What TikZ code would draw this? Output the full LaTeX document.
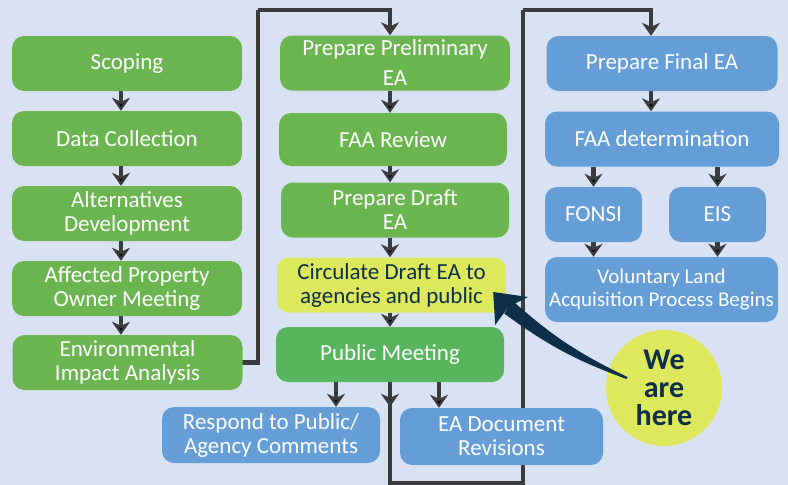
\documentclass[tikz,border=0pt]{standalone}
\usepackage{fontspec}
\setmainfont{Carlito}
\usepackage{tikz}
\usetikzlibrary{arrows.meta,positioning}

\definecolor{bgblue}{HTML}{D9E2F3}
\definecolor{stagegreen}{HTML}{6AB550}
\definecolor{meetgreen}{HTML}{58B55E}
\definecolor{stageblue}{HTML}{659DD7}
\definecolor{hereyellow}{HTML}{DEE85C}
\definecolor{herenavy}{HTML}{0D3048}
\definecolor{flowgray}{HTML}{3B3A3D}

\pgfdeclarelayer{background}
\pgfsetlayers{background,main}

\tikzset{
  stage/.style={rounded corners=12pt, text=white, align=center, inner sep=0pt,
    font=\fontsize{23}{24}\selectfont, minimum height=55pt, minimum width=230pt},
  greenstage/.style={stage, fill=stagegreen},
  bluestage/.style={stage, fill=stageblue},
  flow/.style={draw=flowgray, line width=4.5pt, -{Stealth[length=13pt,width=18pt,inset=4pt]}},
  loopline/.style={draw=flowgray, line width=4.5pt}
}

\begin{document}
\begin{tikzpicture}[x=1pt, y=-1pt]
  \useasboundingbox (0,0) rectangle (788,485);

  % left column
  \node[greenstage] (scoping) at (127,63.5) {Scoping};
  \node[greenstage] (datacol) at (127,138.5) {Data Collection};
  \node[greenstage] (altdev) at (127,213.5) {Alternatives\\Development};
  \node[greenstage] (owner) at (127,288.5) {Affected Property\\Owner Meeting};
  \node[greenstage] (envimp) at (127.5,362.5) {Environmental\\Impact Analysis};

  % middle column
  \node[greenstage] (prelim) at (395,63) {Prepare Preliminary\\[6pt]EA};
  \node[greenstage, minimum height=53pt, minimum width=228pt] (faarev) at (393,139.5) {FAA Review};
  \node[greenstage, minimum width=228pt] (draft) at (395,210) {Prepare Draft\\EA};
  \node[stage, fill=hereyellow, text=herenavy, minimum width=229pt] (circ) at (391.5,285) {Circulate Draft EA to\\agencies and public};
  \node[stage, fill=meetgreen, minimum width=228pt] (pubmeet) at (390,354.5) {Public Meeting};
  \node[bluestage, minimum width=218pt, minimum height=56pt] (respond) at (271,435) {Respond to Public/\\Agency Comments};
  \node[bluestage, minimum width=203pt, minimum height=57pt] (revis) at (501.5,436.5) {EA Document\\Revisions};

  % right column
  \node[bluestage, minimum width=231pt] (final) at (662,63.5) {Prepare Final EA};
  \node[bluestage, minimum width=234pt] (faadet) at (662,139) {FAA determination};
  \node[bluestage, minimum width=97pt] (fonsi) at (593.5,214.5) {FONSI};
  \node[bluestage, minimum width=97pt] (eis) at (717.5,214.5) {EIS};
  \node[bluestage, minimum width=233pt, minimum height=65pt, font=\fontsize{21}{23}\selectfont] (vol) at (661.5,289.5) {Voluntary Land\\Acquisition Process Begins};

  \node[circle, fill=hereyellow, text=herenavy, minimum size=116pt, inner sep=0pt, align=center,
    font=\fontsize{30}{28}\selectfont\bfseries] (here) at (664,388) {We\\are\\here};

  \coordinate (leftx) at (121,0);
  \coordinate (midx) at (390,0);
  \coordinate (rightx) at (651,0);
  \coordinate (topA) at (258,10);
  \coordinate (topB) at (523,10);
  \coordinate (botB) at (523,483);

  \begin{pgfonlayer}{background}
  \fill[bgblue] (0,0) rectangle (788,485);
  \path[flow]
  (leftx |- scoping.south) edge (leftx |- datacol.north)
  (leftx |- datacol.south) edge (leftx |- altdev.north)
  (leftx |- altdev.south) edge (leftx |- owner.north)
  (leftx |- owner.south) edge (leftx |- envimp.north)
  (midx |- prelim.south) edge (midx |- faarev.north)
  (midx |- faarev.south) edge (midx |- draft.north)
  (midx |- draft.south) edge (midx |- circ.north)
  (midx |- circ.south) edge (midx |- pubmeet.north)
  ([xshift=-54pt]pubmeet.south) edge ([xshift=-54pt]pubmeet.south |- respond.north)
  ([xshift=49pt]pubmeet.south) edge ([xshift=49pt]pubmeet.south |- revis.north)
  (midx |- pubmeet.south) edge (midx |- respond.north)
  (rightx |- final.south) edge (rightx |- faadet.north)
  (fonsi.center |- faadet.south) edge (fonsi.north)
  (eis.center |- faadet.south) edge (eis.north)
  (fonsi.center) edge (fonsi.center |- vol.north)
  (eis.center) edge (eis.center |- vol.north);

  % loops to the next column
  \draw[loopline] (envimp.center) -| (topA);
  \draw[flow] (topA) -| ([xshift=-5pt]prelim.north);
  \draw[loopline] (midx |- pubmeet.south) |- (botB) -- (topB);
  \draw[flow] (topB) -| (rightx |- final.north);
  \end{pgfonlayer}

  % swoosh pointing at the current stage
  \coordinate (tail) at ([shift={(-37,-10)}]here.center);
  \coordinate (tip) at ([shift={(-13,7)}]circ.east);
  \coordinate (neck) at ([shift={(15,15)}]tip);
  \fill[herenavy] ([shift={(0.5,-1)}]tail) to[bend left=8] ([shift={(4,-6.5)}]neck)
    -- ([shift={(-4,6.5)}]neck) to[bend right=8] ([shift={(-0.5,1)}]tail) -- cycle;
  \fill[herenavy] (tip) -- ([shift={(2,33)}]tip) -- (neck) -- ([shift={(35,5)}]tip) -- cycle;
\end{tikzpicture}
\end{document}
